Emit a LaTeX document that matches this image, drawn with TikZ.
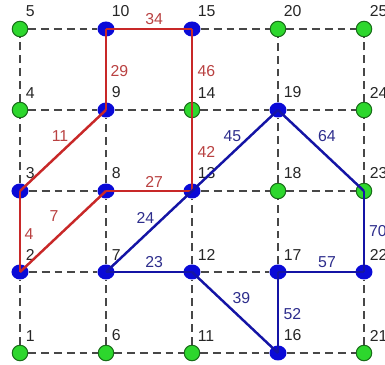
\documentclass[tikz,border=0pt]{standalone}
\usepackage{fontspec}
\setmainfont{Liberation Sans}
\usepackage{tikz}
\usetikzlibrary{positioning, shapes.geometric}

\definecolor{gfill}{RGB}{45,215,45}
\definecolor{gline}{RGB}{25,110,25}
\definecolor{bfill}{RGB}{10,10,215}
\definecolor{redline}{RGB}{200,40,40}
\definecolor{redtext}{RGB}{185,65,65}
\definecolor{blueline}{RGB}{20,20,165}
\definecolor{bluetext}{RGB}{45,45,140}

\begin{document}
\begin{tikzpicture}[
    gnode/.style={circle, fill=gfill, draw=gline, line width=0.6pt, minimum size=0.31cm, inner sep=0pt},
    bnode/.style={ellipse, fill=bfill, minimum width=0.34cm, minimum height=0.3cm, inner sep=0pt},
    numlab/.style={inner sep=0pt, text=black!85, font=\fontsize{9}{10}\selectfont},
    gridline/.style={draw=black!72, line width=1.13pt, dash pattern=on 4.5pt off 2.8pt},
    redge/.style={draw=redline, line width=1.4pt},
    bedge/.style={draw=blueline, line width=1.4pt},
    rlab/.style={text=redtext, inner sep=0pt, font=\fontsize{9}{10}\selectfont},
    blab/.style={text=bluetext, inner sep=0pt, font=\fontsize{9}{10}\selectfont}
]
\useasboundingbox (-0.4, -0.24) rectangle (7.3, 7.06);

% Grid vertices, column by column from the bottom
\node[gnode] (n1) at (0, 0) {};
\node[bnode] (n2) at (0, 1.62) {};
\node[bnode] (n3) at (0, 3.24) {};
\node[gnode] (n4) at (0, 4.86) {};
\node[gnode] (n5) at (0, 6.48) {};
\node[gnode] (n6) at (1.72, 0) {};
\node[bnode] (n7) at (1.72, 1.62) {};
\node[bnode] (n8) at (1.72, 3.24) {};
\node[bnode] (n9) at (1.72, 4.86) {};
\node[bnode] (n10) at (1.72, 6.48) {};
\node[gnode] (n11) at (3.44, 0) {};
\node[bnode] (n12) at (3.44, 1.62) {};
\node[bnode] (n13) at (3.44, 3.24) {};
\node[gnode] (n14) at (3.44, 4.86) {};
\node[bnode] (n15) at (3.44, 6.48) {};
\node[bnode] (n16) at (5.16, 0) {};
\node[bnode] (n17) at (5.16, 1.62) {};
\node[gnode] (n18) at (5.16, 3.24) {};
\node[bnode] (n19) at (5.16, 4.86) {};
\node[gnode] (n20) at (5.16, 6.48) {};
\node[gnode] (n21) at (6.88, 0) {};
\node[bnode] (n22) at (6.88, 1.62) {};
\node[gnode] (n23) at (6.88, 3.24) {};
\node[gnode] (n24) at (6.88, 4.86) {};
\node[gnode] (n25) at (6.88, 6.48) {};

% Vertex numbers
\node[numlab, above right=0.23cm and 0.11cm of n1.center] (t1) {1};
\node[numlab, above right=0.23cm and 0.11cm of n2.center] (t2) {2};
\node[numlab, above right=0.23cm and 0.11cm of n3.center] (t3) {3};
\node[numlab, above right=0.23cm and 0.11cm of n4.center] (t4) {4};
\node[numlab, above right=0.23cm and 0.11cm of n5.center] (t5) {5};
\node[numlab, above right=0.23cm and 0.11cm of n6.center] (t6) {6};
\node[numlab, above right=0.23cm and 0.11cm of n7.center] (t7) {7};
\node[numlab, above right=0.23cm and 0.11cm of n8.center] (t8) {8};
\node[numlab, above right=0.23cm and 0.11cm of n9.center] (t9) {9};
\node[numlab, above right=0.23cm and 0.11cm of n10.center] (t10) {10};
\node[numlab, above right=0.23cm and 0.11cm of n11.center] (t11) {11};
\node[numlab, above right=0.23cm and 0.11cm of n12.center] (t12) {12};
\node[numlab, above right=0.23cm and 0.11cm of n13.center] (t13) {13};
\node[numlab, above right=0.23cm and 0.11cm of n14.center] (t14) {14};
\node[numlab, above right=0.23cm and 0.11cm of n15.center] (t15) {15};
\node[numlab, above right=0.23cm and 0.11cm of n16.center] (t16) {16};
\node[numlab, above right=0.23cm and 0.11cm of n17.center] (t17) {17};
\node[numlab, above right=0.23cm and 0.11cm of n18.center] (t18) {18};
\node[numlab, above right=0.23cm and 0.11cm of n19.center] (t19) {19};
\node[numlab, above right=0.23cm and 0.11cm of n20.center] (t20) {20};
\node[numlab, above right=0.23cm and 0.11cm of n21.center] (t21) {21};
\node[numlab, above right=0.23cm and 0.11cm of n22.center] (t22) {22};
\node[numlab, above right=0.23cm and 0.11cm of n23.center] (t23) {23};
\node[numlab, above right=0.23cm and 0.11cm of n24.center] (t24) {24};
\node[numlab, above right=0.23cm and 0.11cm of n25.center] (t25) {25};

% Dashed grid
\draw[gridline] (n1) -- (n6) -- (n11) -- (n16) -- (n21);
\draw[gridline] (n2) -- (n7) -- (n12) -- (n17) -- (n22);
\draw[gridline] (n3) -- (n8) -- (n13) -- (n18) -- (n23);
\draw[gridline] (n4) -- (n9) -- (n14) -- (n19) -- (n24);
\draw[gridline] (n5) -- (n10) -- (n15) -- (n20) -- (n25);
\draw[gridline] (n1) -- (n2) -- (n3) -- (n4) -- (n5);
\draw[gridline] (n6) -- (n7) -- (n8) -- (n9) -- (n10);
\draw[gridline] (n11) -- (n12) -- (n13) -- (n14) -- (n15);
\draw[gridline] (n16) -- (n17) -- (n18) -- (n19) -- (n20);
\draw[gridline] (n21) -- (n22) -- (n23) -- (n24) -- (n25);

% Red path
\draw[redge] (n10.center) -- node[rlab, pos=0.56, yshift=0.2cm] (w34) {34} (n15.center);
\draw[redge] (n10.center) -- node[rlab, pos=0.52, xshift=0.27cm] (w29) {29} (n9.center);
\draw[redge] (n15.center) -- node[rlab, pos=0.52, xshift=0.29cm] (w46) {46} (n14.center);
\draw[redge] (n9.center) -- node[rlab, pos=0.5, xshift=-0.06cm, yshift=0.28cm] (w11) {11} (n3.center);
\draw[redge] (n14.center) -- node[rlab, pos=0.52, xshift=0.29cm] (w42) {42} (n13.center);
\draw[redge] (n8.center) -- node[rlab, pos=0.56, yshift=0.19cm] (w27) {27} (n13.center);
\draw[redge] (n2.center) -- node[rlab, pos=0.5, xshift=-0.18cm, yshift=0.3cm] (w7) {7} (n8.center);
\draw[redge] (n3.center) -- node[rlab, pos=0.53, xshift=0.18cm] (w4) {4} (n2.center);

% Blue tree
\draw[bedge] (n7.center) -- node[blab, pos=0.5, xshift=-0.07cm, yshift=0.28cm] (w24) {24} (n13.center);
\draw[bedge] (n13.center) -- node[blab, pos=0.5, xshift=-0.05cm, yshift=0.28cm] (w45) {45} (n19.center);
\draw[bedge] (n19.center) -- node[blab, pos=0.5, xshift=0.12cm, yshift=0.28cm] (w64) {64} (n23.center);
\draw[bedge] (n23.center) -- node[blab, pos=0.5, xshift=0.28cm] (w70) {70} (n22.center);
\draw[bedge] (n7.center) -- node[blab, pos=0.56, yshift=0.2cm] (w23) {23} (n12.center);
\draw[bedge] (n17.center) -- node[blab, pos=0.57, yshift=0.2cm] (w57) {57} (n22.center);
\draw[bedge] (n12.center) -- node[blab, pos=0.5, xshift=0.13cm, yshift=0.29cm] (w39) {39} (n16.center);
\draw[bedge] (n17.center) -- node[blab, pos=0.52, xshift=0.29cm] (w52) {52} (n16.center);

\end{tikzpicture}
\end{document}
